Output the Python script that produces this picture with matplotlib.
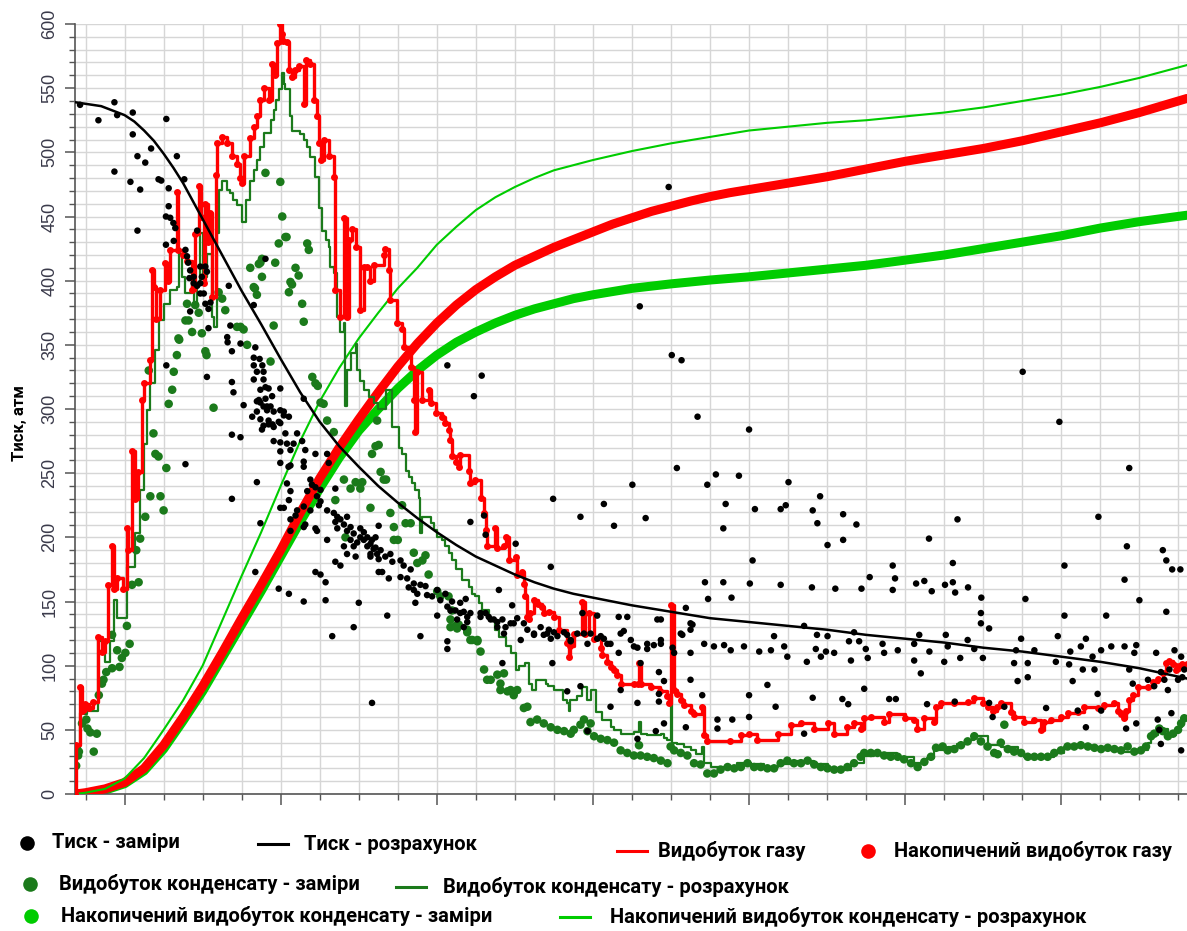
import matplotlib
matplotlib.use("Agg")
import matplotlib.pyplot as plt
from matplotlib.lines import Line2D
from matplotlib.ticker import MultipleLocator, NullFormatter

# time axis: years from start of development, values in atm / relative units
# --- cumulative curves ---
cum_gas_t = [-0.26, 0, 0.5, 1, 1.5, 2, 2.5, 3, 3.5, 4, 4.5, 5, 5.5, 6, 6.5, 7, 7.5, 8, 8.5, 9, 9.5, 10, 10.5,
             11, 11.5, 12, 12.5, 13, 13.5, 14, 14.5, 15, 15.5, 16, 16.5, 17, 18, 19, 20, 21, 22, 23, 24, 25,
             26, 27, 28.22]
cum_gas_v = [0, 1, 4, 9, 20, 38, 60, 84, 110, 137, 163, 190, 219, 246, 270, 292, 313, 333, 351, 367, 381, 393,
             403, 412, 419, 426, 432, 438, 444, 449, 454, 458, 462, 465.5, 468.5, 471, 476, 481, 487, 493, 498,
             503, 509, 516, 523, 531, 542]

cum_cond_t = [-0.26, 0, 0.5, 1, 1.5, 2, 2.5, 3, 3.5, 4, 4.5, 5, 5.5, 6, 6.5, 7, 7.5, 8, 8.5, 9, 9.5, 10, 10.5,
              11, 11.5, 12, 12.5, 13, 13.5, 14, 15, 16, 17, 18, 19, 20, 21, 22, 23, 24, 25, 26, 27, 28.22]
cum_cond_v = [0, 0.5, 3, 8, 18, 35, 57, 80, 106, 132, 158, 185, 212, 238, 262, 283, 300, 316, 330, 342, 352,
              360, 367, 373, 378, 382, 386, 389, 391.5, 394, 397.5, 400.5, 403, 406, 409, 412, 416, 420, 425,
              430, 435, 441, 446, 451]

cum_cond_calc_t = [-0.26, 0, 0.5, 1, 1.5, 2, 2.5, 3, 3.5, 4, 4.5, 5, 5.5, 6, 6.5, 7, 7.5, 8, 8.5, 9, 9.5, 10,
                   10.5, 11, 11.5, 12, 12.5, 13, 14, 15, 16, 17, 18, 19, 20, 21, 22, 23, 24, 25, 26, 27, 28.22]
cum_cond_calc_v = [0, 1, 4, 12, 28, 50, 73, 100, 135, 170, 204, 240, 275, 306, 332, 355, 375, 394, 410, 428,
                   442, 455, 465, 473, 480, 486, 490, 494, 501, 507, 512, 517, 520, 523, 525, 528, 531, 535,
                   540, 545, 551, 558, 568]

# --- calculated pressure ---
press_calc_t = [-0.26, 0.4, 1.0, 1.25, 1.5, 1.75, 2.0, 2.25, 2.5, 2.75, 3.0, 3.25, 3.5, 3.75, 4.0, 4.5, 5.0,
                5.5, 6.0, 6.5, 7.0, 7.5, 8.0, 8.5, 9.0, 9.5, 10, 10.5, 11, 11.5, 12, 12.5, 13, 14, 15, 16, 17,
                18, 19, 20, 21, 22, 23, 24, 25, 26, 27, 28.22]
press_calc_v = [539, 536, 529, 524, 517, 509, 499, 488, 476, 462, 448, 434, 420, 406, 392, 366, 339, 313, 290,
                271, 255, 240, 227, 215, 204, 194, 185, 178, 171, 165, 160, 156, 153, 147, 142, 137, 134, 131,
                128, 124, 121, 118, 114, 111, 107, 103, 98, 90]

# --- gas production rate (step) ---
gas_rate = [(-0.26, 0), (-0.24, 38), (-0.14, 83), (-0.1, 65), (-0.02, 70), (0.1, 67), (0.2, 72), (0.33, 122),
            (0.42, 111), (0.5, 119), (0.58, 163), (0.68, 193), (0.74, 160), (0.8, 168), (0.97, 160),
            (1.06, 207), (1.1, 190), (1.19, 267), (1.27, 230), (1.35, 251), (1.45, 307), (1.49, 320),
            (1.66, 338), (1.7, 408), (1.75, 395), (1.8, 370), (1.92, 393), (2.04, 414), (2.1, 400), (2.17, 424),
            (2.34, 469), (2.36, 424), (2.5, 420), (2.6, 415), (2.73, 393), (2.81, 436), (2.9, 474), (2.95, 450),
            (3.03, 398), (3.07, 460), (3.15, 430), (3.2, 453), (3.24, 387), (3.33, 482), (3.37, 507),
            (3.5, 512), (3.62, 507), (3.75, 497), (3.88, 491), (3.95, 480), (4.0, 476), (4.05, 497),
            (4.22, 511), (4.31, 520), (4.4, 528), (4.48, 541), (4.56, 550), (4.69, 541), (4.78, 569),
            (4.85, 560), (4.91, 585), (4.99, 600), (5.03, 592), (5.07, 587), (5.15, 586), (5.2, 564),
            (5.29, 559), (5.37, 564), (5.46, 567), (5.59, 538), (5.66, 572), (5.76, 569), (5.85, 541),
            (5.93, 528), (5.98, 507), (6.02, 494), (6.1, 510), (6.23, 497), (6.36, 481), (6.4, 393),
            (6.53, 372), (6.62, 449), (6.7, 372), (6.75, 432), (6.83, 440), (6.92, 426), (7.04, 377),
            (7.13, 411), (7.22, 411), (7.3, 400), (7.4, 412), (7.65, 420), (7.68, 425), (7.78, 408),
            (7.81, 385), (7.99, 367), (8.11, 362), (8.15, 348), (8.33, 333), (8.41, 307), (8.45, 282),
            (8.5, 329), (8.63, 307), (8.8, 315), (8.84, 305), (8.97, 297), (9.14, 294), (9.22, 289),
            (9.31, 284), (9.35, 276), (9.4, 263), (9.48, 259), (9.56, 255), (9.6, 264), (9.82, 252),
            (9.86, 242), (9.99, 245), (10.12, 231), (10.2, 219), (10.25, 206), (10.29, 193), (10.5, 207),
            (10.55, 192), (10.72, 193), (10.76, 200), (10.85, 182), (11.02, 185), (11.06, 171), (11.19, 173),
            (11.23, 164), (11.27, 154), (11.32, 138), (11.36, 136), (11.4, 141), (11.49, 151), (11.58, 148),
            (11.7, 146), (11.75, 141), (11.87, 142), (12.0, 138), (12.13, 128), (12.34, 118), (12.38, 107),
            (12.4, 115), (12.51, 125), (12.73, 150), (12.8, 125), (12.9, 141), (13.03, 121), (13.2, 114),
            (13.24, 108), (13.37, 103), (13.45, 99), (13.54, 97), (13.62, 93), (13.71, 86), (14.05, 86),
            (14.15, 86), (14.18, 102), (14.22, 86), (14.48, 83), (14.73, 80), (14.9, 76), (14.95, 71),
            (14.99, 147), (15.08, 81), (15.16, 78), (15.25, 73), (15.33, 69), (15.5, 65), (15.59, 62),
            (15.8, 68), (15.85, 46), (15.93, 41), (16.5, 41), (16.79, 46), (17.0, 47), (17.2, 42), (17.73, 47),
            (18.07, 54), (18.32, 55), (18.67, 51), (19.01, 55), (19.18, 47), (19.52, 52), (19.69, 55),
            (19.86, 51), (19.95, 59), (20.12, 60), (20.46, 56), (20.59, 62), (21.0, 59), (21.23, 58),
            (21.31, 51), (21.49, 59), (21.74, 56), (21.79, 68), (21.92, 71), (22.26, 71), (22.6, 72),
            (22.77, 75), (22.99, 71), (23.11, 68), (23.24, 65), (23.35, 68), (23.45, 71), (23.71, 64),
            (23.8, 60), (24.05, 56), (24.3, 58), (24.48, 50), (24.55, 56), (24.74, 58), (25.0, 60),
            (25.16, 63), (25.42, 64), (25.59, 68), (25.93, 67), (26.1, 69), (26.36, 71), (26.45, 65),
            (26.53, 62), (26.61, 59), (26.66, 65), (26.74, 73), (26.83, 77), (26.96, 83), (27.22, 83),
            (27.35, 87), (27.47, 90), (27.6, 94), (27.69, 102), (27.77, 104), (27.86, 101), (27.94, 97),
            (28.02, 100), (28.1, 101), (28.22, 101)]

# --- condensate production, calculated (step) ---
cond_rate = [(-0.26, 0), (-0.24, 35), (-0.14, 63), (-0.05, 62), (0.05, 65), (0.33, 119), (0.5, 103),
             (0.63, 119), (0.72, 151), (0.8, 137), (1.06, 177), (1.27, 203), (1.4, 237), (1.49, 273),
             (1.57, 299), (1.66, 320), (1.79, 346), (1.87, 369), (2.0, 382), (2.17, 393), (2.34, 395),
             (2.39, 421), (2.48, 403), (2.56, 390), (2.73, 398), (2.77, 382), (2.85, 398), (2.92, 437),
             (3.02, 403), (3.11, 421), (3.24, 372), (3.28, 364), (3.37, 437), (3.41, 471), (3.5, 478),
             (3.62, 471), (3.71, 468), (3.79, 463), (3.88, 459), (4.01, 446), (4.1, 463), (4.22, 478),
             (4.31, 486), (4.4, 494), (4.48, 504), (4.56, 515), (4.74, 525), (4.82, 533), (4.88, 541),
             (4.95, 549), (5.04, 562), (5.08, 553), (5.12, 549), (5.25, 528), (5.29, 517), (5.5, 514),
             (5.59, 510), (5.68, 504), (5.76, 496), (5.89, 481), (5.98, 457), (6.06, 439), (6.15, 432),
             (6.23, 426), (6.27, 411), (6.36, 406), (6.45, 372), (6.53, 360), (6.62, 367), (6.66, 302),
             (6.7, 330), (6.79, 344), (6.92, 351), (6.96, 330), (7.04, 322), (7.13, 315), (7.26, 309),
             (7.38, 305), (7.5, 300), (7.69, 315), (7.86, 286), (8.03, 270), (8.11, 265), (8.2, 252),
             (8.28, 247), (8.37, 242), (8.45, 237), (8.54, 231), (8.58, 203), (8.63, 216), (8.84, 211),
             (8.92, 206), (9.01, 200), (9.14, 198), (9.22, 193), (9.31, 188), (9.4, 182), (9.48, 175),
             (9.65, 167), (9.82, 161), (9.91, 156), (9.99, 154), (10.08, 149), (10.16, 143), (10.33, 136),
             (10.5, 128), (10.59, 122), (10.76, 115), (10.89, 110), (11.02, 97), (11.1, 100), (11.27, 102),
             (11.36, 86), (11.45, 81), (11.53, 89), (11.79, 86), (11.85, 84), (12.0, 81), (12.22, 73),
             (12.34, 71), (12.38, 65), (12.42, 73), (12.6, 76), (12.73, 83), (12.86, 73), (12.94, 81),
             (13.07, 64), (13.24, 58), (13.45, 52), (13.54, 50), (13.71, 47), (14.05, 48), (14.18, 56),
             (14.22, 47), (14.39, 46), (14.74, 47), (14.82, 44), (14.9, 42), (14.99, 78), (15.03, 40),
             (15.16, 39), (15.33, 37), (15.5, 34), (15.63, 31), (15.8, 37), (15.85, 24), (16.02, 21),
             (16.36, 21), (16.7, 24), (17.04, 23), (17.38, 21), (17.73, 23), (18.07, 26), (18.33, 26),
             (18.67, 23), (19.01, 20), (19.35, 19), (19.61, 24), (19.95, 30), (20.21, 32), (20.8, 29),
             (21.23, 24), (21.57, 28), (21.74, 34), (22.09, 37), (22.34, 39), (22.6, 42), (22.77, 45),
             (23.11, 38), (23.45, 37), (23.88, 32), (24.05, 29), (24.48, 29), (24.82, 32), (25.08, 37),
             (25.33, 38), (25.76, 36), (26.19, 34), (26.53, 33), (26.87, 34), (27.22, 40), (27.3, 46),
             (27.47, 48), (27.6, 51), (27.73, 46), (27.94, 48), (28.02, 52), (28.1, 59), (28.22, 60)]

# --- condensate production, measured ---
cond_meas = [(-0.24, 22), (-0.19, 30), (-0.17, 33), (-0.09, 55), (0.02, 58), (0.05, 51), (0.12, 48), (0.21, 33),
             (0.29, 47), (0.34, 77), (0.42, 86), (0.46, 89), (0.53, 95), (0.68, 124), (0.68, 98), (0.81, 112),
             (0.87, 99), (0.93, 106), (1.02, 110), (1.06, 131), (1.13, 117), (1.19, 163), (1.3, 190),
             (1.36, 165), (1.4, 199), (1.53, 216), (1.66, 232), (1.92, 232), (2.0, 221), (1.74, 281),
             (1.79, 265), (1.87, 263), (2.07, 254), (2.13, 304), (3.28, 301), (1.62, 330), (2.22, 315),
             (2.26, 329), (2.34, 342), (2.38, 355), (2.4, 354), (2.6, 382), (2.64, 369), (2.56, 369),
             (2.73, 360), (2.81, 381), (2.9, 375), (2.98, 359), (3.07, 345), (3.1, 342), (3.41, 391),
             (3.5, 386), (3.58, 377), (3.88, 364), (3.97, 364), (4.05, 362), (4.14, 350), (4.22, 410),
             (4.31, 395), (4.34, 394), (4.39, 389), (4.48, 414), (4.52, 403), (4.74, 337), (4.82, 365),
             (4.86, 414), (4.95, 429), (5.04, 450), (4.99, 477), (5.12, 434), (5.21, 391), (5.25, 399),
             (5.29, 397), (5.38, 410), (5.46, 404), (5.55, 382), (5.59, 368), (5.68, 429), (5.72, 424),
             (5.81, 325), (5.89, 320), (5.95, 318), (6.02, 305), (4.61, 484), (5.15, 434), (4.52, 417),
             (4.44, 413), (6.1, 304), (6.19, 291), (6.36, 282), (6.62, 245), (6.79, 238), (6.92, 243),
             (7.09, 243), (6.4, 229), (6.66, 200), (7.04, 238), (7.47, 291), (7.43, 271), (7.51, 272),
             (7.34, 265), (7.56, 251), (7.64, 245), (7.7, 245), (7.81, 219), (7.9, 208), (7.9, 198),
             (8.0, 198), (8.11, 225), (8.2, 211), (8.33, 211), (8.41, 188), (8.5, 180), (8.63, 182),
             (8.71, 186), (8.79, 171), (7.3, 223), (9.01, 158), (9.09, 154), (9.3, 154), (9.39, 143),
             (9.35, 136), (9.56, 132), (9.48, 131), (9.78, 128), (9.86, 120), (10.04, 120), (9.35, 130),
             (9.52, 129), (9.78, 126), (9.91, 120), (10.04, 119), (10.12, 111), (10.21, 97), (10.29, 89),
             (10.38, 89), (10.55, 93), (10.63, 86), (10.72, 94), (10.63, 81), (10.81, 80), (10.89, 81),
             (10.97, 77), (11.06, 81), (11.23, 67), (11.32, 68), (11.4, 56), (11.57, 58), (11.74, 55),
             (11.92, 52), (12.09, 50), (12.26, 49), (12.43, 47), (12.51, 50), (12.68, 54), (12.77, 58),
             (12.94, 55), (12.86, 49), (13.03, 45), (13.2, 43), (13.37, 42), (13.54, 40), (13.71, 34),
             (13.88, 32), (14.05, 30), (14.22, 30), (14.18, 38), (14.39, 29), (14.56, 28), (14.74, 26),
             (14.91, 24), (14.99, 37), (15.08, 34), (15.25, 32), (15.42, 30), (15.59, 24), (15.76, 23),
             (15.93, 16), (16.1, 16), (16.27, 19), (16.45, 21), (16.62, 20), (16.79, 21), (16.96, 24),
             (17.13, 21), (17.3, 21), (17.47, 20), (17.64, 20), (17.81, 24), (17.98, 26), (18.15, 24),
             (18.33, 24), (18.5, 26), (18.67, 23), (18.84, 21), (19.01, 20), (19.18, 19), (19.35, 19),
             (19.52, 21), (19.69, 24), (19.86, 29), (19.95, 32), (20.12, 32), (20.29, 32), (20.46, 30),
             (20.63, 29), (20.81, 29), (20.97, 27), (21.15, 24), (21.32, 21), (21.49, 25), (21.66, 29),
             (21.79, 36), (21.96, 37), (22.09, 34), (22.26, 35), (22.43, 38), (22.6, 41), (22.77, 45),
             (22.94, 41), (23.11, 37), (23.28, 32), (23.37, 31), (23.45, 40), (23.54, 54), (23.63, 35),
             (23.79, 33), (23.97, 32), (24.14, 29), (24.31, 29), (24.48, 29), (24.65, 29), (24.82, 32),
             (24.99, 34), (25.16, 37), (25.33, 37), (25.5, 38), (25.68, 37), (25.85, 36), (26.02, 35),
             (26.19, 36), (26.36, 35), (26.53, 34), (26.7, 37), (26.87, 33), (27.04, 34), (27.17, 37),
             (27.3, 45), (27.38, 47), (27.51, 51), (27.6, 49), (27.73, 45), (27.86, 47), (27.99, 50),
             (28.07, 55), (28.15, 59)]

# --- measured pressure ---
press_meas = [(-0.14, 537), (0.33, 525), (0.74, 539), (0.81, 529), (0.74, 485), (1.15, 477), (1.21, 531),
              (1.21, 514), (1.33, 497), (1.4, 471), (1.33, 439), (1.53, 492), (1.68, 503), (1.87, 479),
              (1.94, 478), (2.07, 526), (2.34, 497), (2.13, 472), (2.13, 458), (2.06, 450), (2.17, 449),
              (2.25, 445), (2.3, 441), (2.06, 428), (2.26, 431), (2.53, 479), (2.56, 424), (2.6, 419),
              (2.63, 414), (2.68, 408), (2.77, 403), (2.66, 402), (2.86, 439), (2.94, 411), (3.07, 411),
              (3.11, 407), (2.94, 398), (2.86, 396), (2.94, 390), (3.67, 396), (2.98, 403), (2.77, 398),
              (3.03, 390), (3.07, 382), (3.2, 383), (3.15, 378), (3.15, 363), (2.68, 376), (3.63, 356),
              (3.64, 352), (3.71, 365), (3.75, 345), (3.97, 351), (4.35, 348), (4.31, 340), (4.46, 339),
              (4.31, 334), (4.53, 334), (4.39, 329), (4.56, 329), (4.31, 323), (4.56, 323), (4.61, 317),
              (4.48, 315), (4.69, 316), (4.78, 310), (4.61, 308), (4.44, 307), (4.39, 306), (4.56, 302),
              (4.74, 302), (4.82, 298), (4.65, 299), (4.99, 299), (5.08, 298), (5.21, 294), (4.27, 294),
              (4.48, 292), (4.69, 291), (4.95, 290), (4.56, 287), (4.82, 286), (4.99, 316), (5.59, 308),
              (3.11, 325), (3.75, 321), (3.79, 313), (4.05, 303), (2.07, 334), (4.61, 417), (4.31, 381),
              (4.48, 305), (4.65, 302), (4.39, 298), (5.08, 295), (4.69, 288), (4.79, 288), (4.99, 289),
              (4.52, 284), (5.12, 281), (5.42, 281), (3.75, 280), (3.97, 278), (4.82, 275), (4.99, 274),
              (5.16, 273), (5.33, 273), (5.55, 275), (4.99, 267), (5.25, 268), (5.63, 268), (5.89, 265),
              (4.99, 258), (5.25, 256), (5.59, 259), (5.2, 255), (5.59, 255), (6.19, 265), (6.23, 258),
              (2.56, 257), (4.39, 243), (5.16, 242), (5.76, 245), (5.8, 241), (5.89, 239), (6.02, 237),
              (5.25, 236), (5.68, 236), (6.4, 238), (5.93, 232), (5.21, 229), (3.75, 230), (6.02, 228),
              (4.99, 223), (5.08, 223), (5.42, 221), (5.76, 221), (5.59, 224), (5.98, 225), (6.19, 221),
              (6.36, 219), (6.45, 216), (6.53, 214), (6.4, 212), (6.7, 216), (5.38, 217), (5.25, 214),
              (5.63, 210), (5.59, 208), (5.89, 207), (5.93, 205), (5.25, 205), (6.62, 210), (6.45, 207),
              (6.7, 205), (6.79, 208), (6.87, 203), (7.04, 207), (7.13, 204), (7.22, 200), (7.04, 200),
              (6.79, 198), (6.62, 193), (6.87, 193), (6.96, 196), (7.13, 198), (7.3, 195), (7.22, 193),
              (7.38, 191), (7.3, 187), (7.47, 187), (6.7, 187), (6.92, 185), (7.3, 185), (7.51, 183),
              (7.43, 200), (6.19, 198), (4.48, 211), (6.4, 181), (6.53, 178), (5.89, 173), (6.02, 171),
              (6.15, 165), (7.51, 173), (4.35, 173), (4.95, 160), (5.21, 156), (5.59, 150), (6.15, 151),
              (7.0, 149), (6.87, 130), (6.32, 123), (7.73, 139), (7.34, 71),
              (9.27, 334), (10.15, 326), (9.95, 310), (7.51, 209), (7.34, 198), (7.43, 192), (7.56, 190),
              (7.68, 185), (7.81, 187), (7.86, 181), (7.6, 173), (7.77, 168), (8.07, 182), (8.15, 178),
              (8.07, 169), (8.24, 168), (8.33, 175), (8.41, 164), (8.28, 161), (8.41, 159), (8.5, 156),
              (8.58, 163), (8.71, 162), (8.75, 155), (8.88, 154), (9.01, 159), (9.09, 151), (9.22, 156),
              (9.27, 146), (9.39, 150), (9.48, 143), (9.6, 149), (9.74, 152), (9.86, 141), (9.6, 141),
              (9.52, 136), (9.69, 130), (9.78, 134), (10.12, 138), (10.25, 141), (10.33, 138), (10.46, 136),
              (10.55, 130), (10.68, 136), (10.76, 130), (10.89, 133), (11.06, 137), (11.23, 133),
              (11.32, 128), (11.49, 125), (11.66, 130), (11.74, 124), (11.87, 128), (12.0, 126),
              (12.09, 123), (12.26, 126), (12.34, 124), (12.43, 120), (12.6, 125), (12.77, 125),
              (12.94, 125), (13.11, 121), (13.28, 121), (13.45, 117), (13.66, 138), (13.88, 138),
              (13.79, 127), (13.97, 120), (14.14, 114), (14.39, 117), (14.74, 120), (14.74, 136),
              (15.04, 114), (15.25, 125), (15.38, 145), (15.5, 133), (15.5, 128), (10.59, 159),
              (10.93, 147), (11.92, 177), (11.02, 195), (10.25, 202), (9.86, 212), (10.21, 217),
              (11.98, 230), (12.68, 216), (13.28, 226), (13.54, 209), (14.01, 241), (14.35, 215),
              (15.15, 254), (15.02, 342), (15.27, 338), (15.68, 294), (14.2, 380), (14.94, 473),
              (8.58, 123), (9.27, 119), (9.27, 113), (8.45, 149), (9.01, 139), (9.35, 143), (9.69, 142),
              (9.78, 138), (10.12, 141), (10.38, 136), (10.55, 134), (10.72, 125), (10.97, 133),
              (11.15, 120), (11.49, 124), (11.83, 125), (11.92, 121), (12.43, 119), (12.86, 117),
              (13.2, 123), (13.37, 117), (13.66, 110), (13.71, 125), (14.05, 115), (14.39, 113),
              (14.56, 116), (14.74, 117), (15.08, 110), (15.29, 124), (15.5, 110), (15.85, 117),
              (16.1, 115), (16.36, 116), (16.53, 112), (16.87, 115), (17.26, 111), (17.56, 112),
              (17.64, 123), (17.9, 115), (17.98, 107), (10.68, 102), (11.96, 102), (12.34, 80),
              (12.68, 84), (12.86, 49), (13.45, 68), (14.14, 71), (13.71, 81), (14.22, 102), (14.69, 95),
              (14.82, 88), (14.69, 78), (14.69, 72), (14.82, 55), (14.61, 49), (14.14, 43), (15.38, 52),
              (15.5, 89), (15.8, 77), (16.19, 58), (16.19, 51), (16.57, 58), (17.0, 77), (17.0, 60),
              (17.47, 85), (17.68, 68), (12.73, 141), (13.11, 139), (14.65, 136), (15.55, 132),
              (17.0, 284), (24.01, 329), (24.95, 290), (26.74, 254), (15.93, 241), (16.15, 249),
              (16.74, 248), (18.01, 243), (16.4, 226), (16.34, 207), (17.15, 222), (17.81, 222),
              (17.94, 225), (18.63, 221), (18.82, 232), (18.75, 211), (19.01, 194), (19.41, 218),
              (19.41, 198), (19.75, 210), (17.09, 182), (15.87, 165), (16.34, 165), (17.02, 164),
              (17.81, 163), (18.61, 161), (19.21, 160), (19.88, 160), (20.09, 169), (20.68, 178),
              (20.74, 168), (20.68, 159), (21.28, 164), (21.49, 166), (21.68, 158), (21.61, 199),
              (22.02, 163), (22.22, 165), (22.22, 180), (22.34, 214), (22.28, 157), (22.61, 161),
              (22.95, 153), (24.08, 152), (25.08, 178), (25.95, 216), (26.62, 167), (26.68, 193),
              (27.6, 190), (27.69, 182), (27.84, 175), (28.05, 175), (15.95, 152), (16.55, 153),
              (18.41, 131), (18.48, 103), (18.74, 124), (19.01, 123), (18.71, 113), (18.84, 107),
              (18.97, 111), (19.18, 110), (18.63, 75), (18.41, 47), (19.39, 74), (19.54, 70), (19.56, 119),
              (19.61, 104), (19.69, 126), (19.82, 119), (19.95, 82), (19.99, 113), (20.04, 106),
              (20.42, 117), (20.46, 110), (20.59, 74), (20.76, 74), (20.81, 112), (21.23, 117),
              (21.23, 104), (21.36, 124), (21.56, 70), (21.4, 94), (21.62, 111), (22.0, 103), (22.04, 124),
              (22.09, 115), (22.27, 72), (22.41, 106), (22.6, 120), (22.77, 113), (22.99, 106), (22.94, 141),
              (22.94, 133), (23.15, 129), (23.15, 71), (23.24, 60), (23.54, 68), (23.84, 112), (23.79, 102),
              (23.88, 88), (23.97, 121), (24.14, 102), (24.14, 91), (24.31, 112), (24.61, 67), (24.86, 103),
              (24.91, 123), (25.08, 139), (25.23, 111), (25.2, 101), (25.29, 88), (25.42, 65), (25.5, 115),
              (25.55, 97), (25.63, 121), (25.63, 52), (25.8, 107), (25.85, 97), (25.93, 78), (26.02, 112),
              (26.02, 65), (26.15, 139), (26.28, 115), (26.62, 115), (26.66, 51), (26.74, 97), (26.83, 86),
              (26.87, 110), (26.92, 55), (26.92, 116), (27.0, 151), (27.22, 89), (27.38, 84), (27.43, 110),
              (27.47, 58), (27.51, 50), (27.55, 95), (27.55, 39), (27.64, 89), (27.69, 142), (27.73, 81),
              (27.77, 97), (27.82, 63), (27.9, 112), (27.99, 89), (28.07, 107), (28.07, 34), (28.1, 91),
              (28.15, 97)]

RED = "#ff0000"
DKGREEN = "#1b7a1b"
GREEN = "#00cc00"

fig = plt.figure(figsize=(11.87, 9.31), dpi=100)
ax = fig.add_axes([75 / 1187, 137 / 931, 1112 / 1187, 770 / 931])

ax.plot(cum_cond_t, cum_cond_v, color=GREEN, lw=6.5, solid_capstyle="round", solid_joinstyle="round", zorder=2)
ax.plot(cum_gas_t, cum_gas_v, color=RED, lw=6.5, solid_capstyle="round", solid_joinstyle="round", zorder=3)
ax.plot(cum_cond_calc_t, cum_cond_calc_v, color=GREEN, lw=1.5, zorder=4)

ct, cv = zip(*cond_meas)
ax.scatter(ct, cv, s=38, color=DKGREEN, edgecolors="none", zorder=5)

st, sv = zip(*cond_rate)
ax.plot(st, sv, color=DKGREEN, lw=1.6, drawstyle="steps-post", zorder=6)

gt, gv = zip(*gas_rate)
ax.plot(gt, gv, color=RED, lw=2.4, drawstyle="steps-post", zorder=7)
ax.plot(gt, gv, "o", color=RED, ms=5, mec="none", zorder=7)

pt, pv = zip(*press_meas)
ax.scatter(pt, pv, s=22, color="black", edgecolors="none", zorder=8)
ax.plot(press_calc_t, press_calc_v, color="black", lw=1.8, zorder=9)

ax.set_xlim(-0.27, 28.22)
ax.set_ylim(0, 600)
ax.yaxis.set_major_locator(MultipleLocator(50))
ax.yaxis.set_minor_locator(MultipleLocator(10))
ax.set_xticks([1, 5, 9, 13, 17, 21, 25])
ax.xaxis.set_minor_locator(MultipleLocator(1))
ax.xaxis.set_major_formatter(NullFormatter())
ax.grid(which="both", color="#d6d6d6", lw=1.0, zorder=0)
ax.set_axisbelow(True)
for s in ("top", "right"):
    ax.spines[s].set_visible(False)
for s in ("left", "bottom"):
    ax.spines[s].set_color("#555555")
    ax.spines[s].set_linewidth(1.2)
ax.tick_params(axis="y", which="major", length=7, width=1.1, color="#555555", pad=5,
               labelsize=13, labelcolor="#3a3a4a", labelrotation=90)
ax.tick_params(axis="y", which="minor", length=4, width=1.0, color="#555555")
ax.tick_params(axis="x", which="major", length=8, width=1.1, color="#555555")
ax.tick_params(axis="x", which="minor", length=4, width=1.0, color="#555555")
for lab in ax.get_yticklabels():
    lab.set_family("Liberation Sans")
    lab.set_va("center")

fam = ["Roboto", "DejaVu Sans"]
fig.text(20 / 1187, 1 - 423 / 931, "Тиск, атм", rotation=90, ha="center", va="center",
         fontsize=12, fontweight="bold", family=fam)

# legend built by hand in figure coordinates
def fx(x):
    return x / 1187

def fy(y):
    return 1 - y / 931

legend_rows = [
    ("dot", "black", 27, 843, 52, "Тиск - заміри"),
    ("line", "black", 258, 844, 304, "Тиск - розрахунок"),
    ("line", RED, 617, 851, 658, "Видобуток газу"),
    ("dot", RED, 868, 851, 894, "Накопичений видобуток газу"),
    ("dot", DKGREEN, 30, 884, 59, "Видобуток конденсату - заміри"),
    ("line", DKGREEN, 396, 887, 443, "Видобуток конденсату - розрахунок"),
    ("dot", GREEN, 31, 916, 61, "Накопичений видобуток конденсату - заміри"),
    ("line", GREEN, 560, 917, 610, "Накопичений видобуток конденсату - розрахунок"),
]
for kind, col, hx, hy, tx, label in legend_rows:
    if kind == "dot":
        fig.add_artist(Line2D([fx(hx)], [fy(hy)], marker="o", ms=10.5, color=col, mec="none",
                              transform=fig.transFigure))
    else:
        fig.add_artist(Line2D([fx(hx), fx(hx + 30)], [fy(hy), fy(hy)], color=col, lw=2.2,
                              transform=fig.transFigure))
    fig.text(fx(tx), fy(hy), label, ha="left", va="center", fontsize=14.5, fontweight="bold",
             family=fam)

fig.savefig("out.png", dpi=100)
